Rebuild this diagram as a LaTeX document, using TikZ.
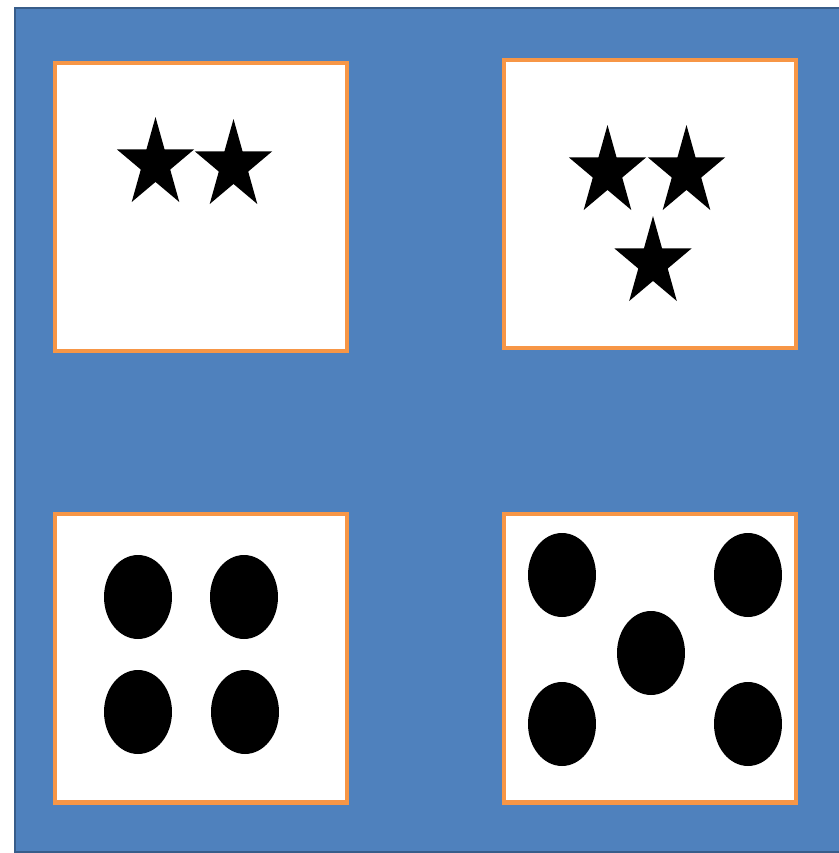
\documentclass[tikz,border=0pt]{standalone}
\usepackage{tikz}
\usepackage{xcolor}
\usetikzlibrary{shapes.geometric}

\definecolor{bgblue}{HTML}{4F81BD}
\definecolor{bgedge}{HTML}{385D8A}
\definecolor{panelorange}{HTML}{F79646}

\begin{document}
\begin{tikzpicture}[
    x=0.02cm, y=-0.02cm,
    panel/.style={draw=panelorange, line width=2.3pt, fill=white, minimum width=5.84cm, minimum height=5.78cm, inner sep=0pt},
    starmark/.style={star, star points=5, star point ratio=2.618, fill=black, draw=none, minimum size=1.62cm, inner sep=0pt, yscale=1.16, transform shape},
    dot/.style={ellipse, fill=black, draw=none, minimum width=1.36cm, minimum height=1.68cm, inner sep=0pt}
  ]
    \useasboundingbox (0,0) rectangle (839,853);
    \node[draw=bgedge, line width=1.2pt, fill=bgblue, minimum width=16.7cm, minimum height=16.88cm, inner sep=0pt, anchor=north west] (back) at (14,7) {};

    \node[panel] (topleft) at (201,207) {};
    \node[panel] (topright) at (650,204) {};
    \node[panel] (bottomleft) at (201,658) {};
    \node[panel] (bottomright) at (650,658) {};

    % two stars
    \node[starmark] (s1) at (155.5,164) {};
    \node[starmark] (s2) at (233.5,166) {};

    % three stars
    \node[starmark] (t1) at (607.5,172) {};
    \node[starmark] (t2) at (686.5,172) {};
    \node[starmark] (t3) at (653,263) {};

    % four dots
    \node[dot] (f1) at (138,597) {};
    \node[dot] (f2) at (244,597) {};
    \node[dot] (f3) at (138,712) {};
    \node[dot] (f4) at (245,712) {};

    % five dots
    \node[dot] (v1) at (562,575) {};
    \node[dot] (v2) at (748,575) {};
    \node[dot] (v3) at (651,653) {};
    \node[dot] (v4) at (562,724) {};
    \node[dot] (v5) at (748,724) {};
  \end{tikzpicture}
\end{document}
